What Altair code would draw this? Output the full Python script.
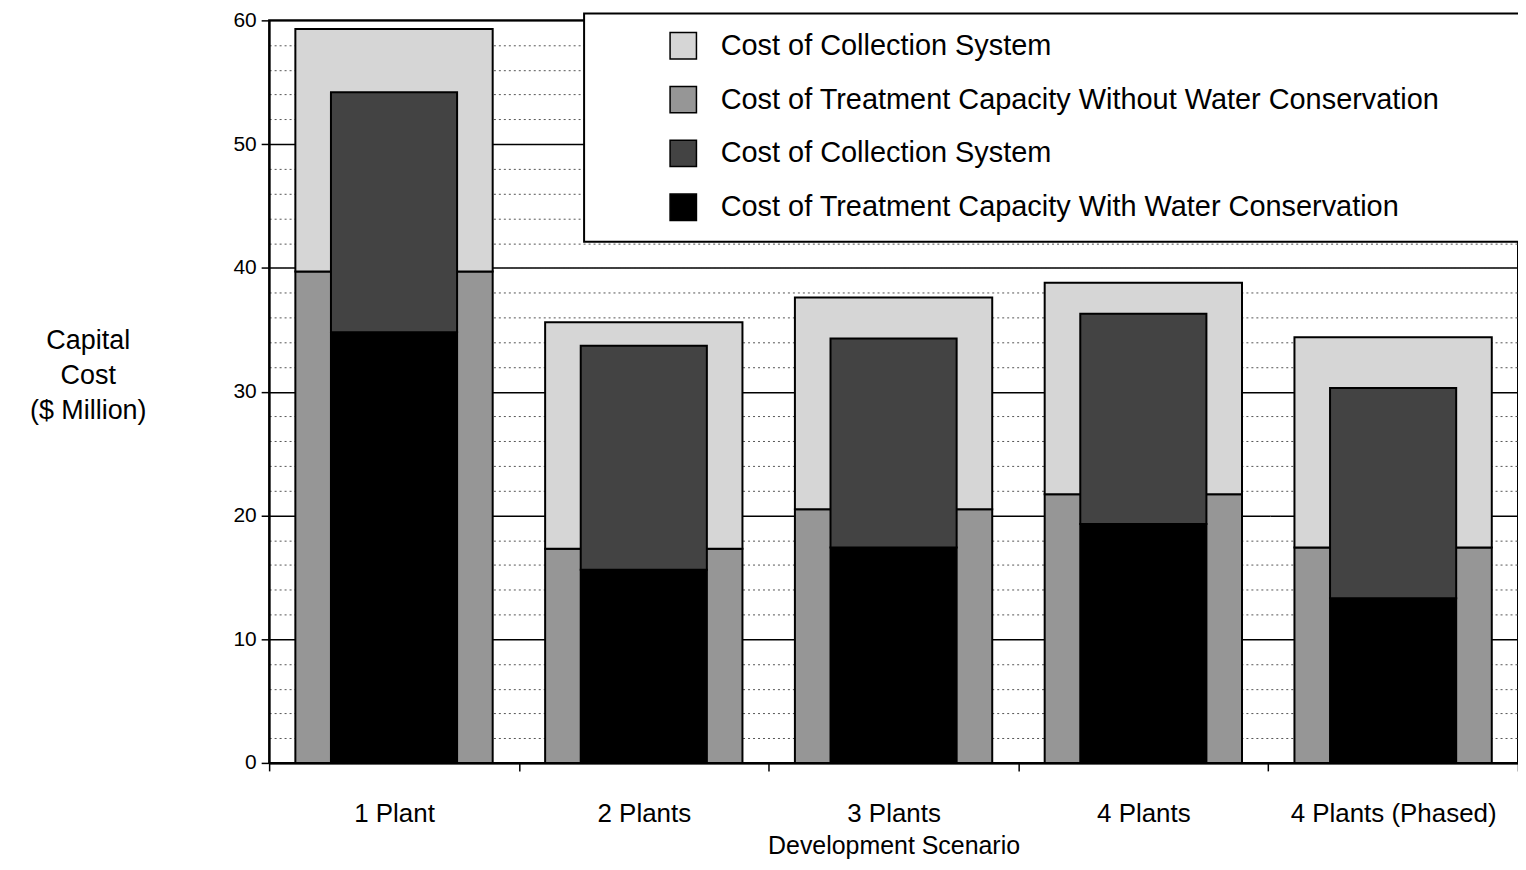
import altair as alt
import pandas as pd

# ---- data ----
scenarios = ["1 Plant", "2 Plants", "3 Plants", "4 Plants", "4 Plants (Phased)"]
treat_without = [39.7, 17.3, 20.5, 21.7, 17.4]   # outer bar, bottom segment
collect_outer = [19.6, 18.3, 17.1, 17.1, 17.0]   # outer bar, top segment
treat_with = [34.8, 15.6, 17.4, 19.3, 13.3]      # inner bar, bottom segment
collect_inner = [19.4, 18.1, 16.9, 17.0, 17.0]  # inner bar, top segment

series_keys = ["collect_outer", "treat_without", "collect_inner", "treat_with"]
series_labels = [
    "Cost of Collection System",
    "Cost of Treatment Capacity Without Water Conservation",
    "Cost of Collection System",
    "Cost of Treatment Capacity With Water Conservation",
]
series_colors = ["#d6d6d6", "#969696", "#434343", "#000000"]
y_tick_values = list(range(0, 61, 2))

FONT = "Liberation Sans"
BLANK_PAD = "\u2800" * 3  # blank glyphs: widen the legend box on its right like the reference

outer_rows, inner_rows = [], []
for i, s in enumerate(scenarios):
    outer_rows.append(dict(scenario=s, series="treat_without", value=treat_without[i], rank=0))
    outer_rows.append(dict(scenario=s, series="collect_outer", value=collect_outer[i], rank=1))
    inner_rows.append(dict(scenario=s, series="treat_with", value=treat_with[i], rank=0))
    inner_rows.append(dict(scenario=s, series="collect_inner", value=collect_inner[i], rank=1))
outer_df = pd.DataFrame(outer_rows)
inner_df = pd.DataFrame(inner_rows)

longest = max(series_labels, key=len)
label_expr = " : ".join(
    [
        f"datum.value === '{k}' ? '{l + (BLANK_PAD if l == longest else '')}'"
        for k, l in zip(series_keys, series_labels)
    ]
) + " : datum.label"

x_enc = alt.X(
    "scenario:N",
    sort=scenarios,
    scale=alt.Scale(paddingInner=0, paddingOuter=0),
    axis=alt.Axis(
        title="Development Scenario",
        labelAngle=0,
        labelLimit=0,
        tickBand="extent",
        grid=False,
        domainColor="black",
        domainWidth=2,
        tickColor="black",
        tickWidth=1.5,
        tickSize=8,
        labelFont=FONT,
        labelFontSize=26,
        labelColor="black",
        labelPadding=30,
        titleFont=FONT,
        titleFontSize=25,
        titleFontWeight="normal",
        titleColor="black",
        titleBaseline="middle",
        titleY=83,
        zindex=1,
    ),
)

y_enc = alt.Y(
    "value:Q",
    stack="zero",
    scale=alt.Scale(domain=[0, 60], nice=False),
    axis=alt.Axis(
        title=["Capital", "Cost", "($  Million)"],
        titleAngle=0,
        titleAlign="center",
        titleBaseline="middle",
        titleX=-182,
        titleY=321,
        titleLineHeight=35,
        titleFont=FONT,
        titleFontSize=27,
        titleFontWeight="normal",
        titleColor="black",
        values=y_tick_values,
        labelExpr="datum.value % 10 === 0 ? datum.label : ''",
        labelOverlap=False,
        labelFont=FONT,
        labelFontSize=21,
        labelColor="black",
        labelPadding=5,
        domainColor="black",
        domainWidth=2,
        tickColor="black",
        tickWidth=1.5,
        tickSize={"condition": {"test": "datum.value % 10 === 0", "value": 8}, "value": 0},
        grid=True,
        gridColor={"condition": {"test": "datum.value % 10 === 0", "value": "#000000"}, "value": "#555555"},
        gridDash={"condition": {"test": "datum.value % 10 === 0", "value": [1, 0]}, "value": [2, 3]},
        gridWidth={"condition": {"test": "datum.value % 10 === 0", "value": 1.5}, "value": 1},
    ),
)

color_enc = alt.Color(
    "series:N",
    scale=alt.Scale(domain=series_keys, range=series_colors),
    legend=alt.Legend(
        orient="none",
        legendX=316,
        legendY=-7,
        title=None,
        symbolType="square",
        symbolSize=700,
        symbolStrokeColor="black",
        symbolStrokeWidth=1.5,
        symbolOffset=67,
        labelOffset=23,
        labelFont=FONT,
        labelFontSize=29,
        labelColor="black",
        labelLimit=0,
        labelExpr=label_expr,
        rowPadding=21,
        padding=18,
        fillColor="white",
        strokeColor="black",
    ),
)

outer = alt.Chart(outer_df).mark_bar(
    width={"band": 0.79}, stroke="black", strokeWidth=2
).encode(x=x_enc, y=y_enc, color=color_enc, order=alt.Order("rank:Q"))

inner = alt.Chart(inner_df).mark_bar(
    width={"band": 0.505}, stroke="black", strokeWidth=2
).encode(x=x_enc, y=y_enc, color=color_enc, order=alt.Order("rank:Q"))

chart = (
    alt.layer(outer, inner)
    .properties(
        width=1253,
        height=745,
        autosize=alt.AutoSizeParams(type="none"),
        padding={"left": 262, "top": 11, "right": 0, "bottom": 96},
        background="white",
    )
    .configure(font=FONT)
    .configure_view(stroke="black", strokeWidth=2)
    .configure_legend(strokeWidth=2)
)

chart.save("out.html", embed_options={"renderer": "svg", "actions": False})
